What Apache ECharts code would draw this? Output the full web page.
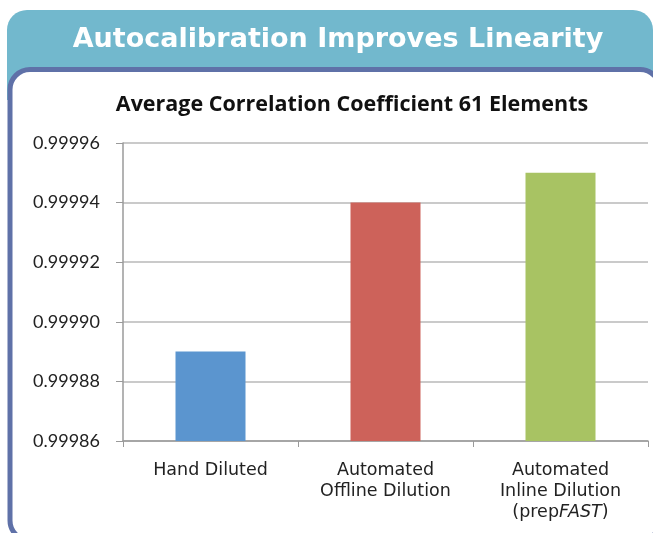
<!DOCTYPE html>
<html>
<head>
    <meta charset="utf-8">
    <title>Autocalibration Improves Linearity</title>
    <style>
        html, body { margin: 0; padding: 0; background: #fff; }
        #main { width: 653px; height: 533px; }
    </style>
</head>
<body>
<div id="main"></div>

<script type="text/javascript" src="https://cdn.jsdelivr.net/npm/echarts@6/dist/echarts.min.js"></script>
<script type="text/javascript">
    // 数据
    var categories = ['Hand Diluted', 'Automated\nOffline Dilution', 'Automated\nInline Dilution\n(prepFAST)'];
    var values = [0.99989, 0.99994, 0.99995];
    var barColors = ['#5b95cf', '#cd625a', '#a8c363'];
    var yMin = 0.99986, yMax = 0.99996, yStep = 0.00002;

    var myChart = echarts.init(document.getElementById('main'));

    var option = {
        backgroundColor: '#ffffff',
        animation: false,
        title: {
            text: 'Average Correlation Coefficient 61 Elements',
            left: 347,
            textAlign: 'center',
            top: 89,
            textStyle: {
                fontFamily: 'Open Sans',
                fontWeight: 'bold',
                fontSize: 21.5,
                color: '#111'
            }
        },
        graphic: [
            // 顶部标题条
            {
                type: 'rect', z: -10,
                shape: { x: 7, y: 10, width: 646, height: 90, r: [20, 20, 0, 0] },
                style: { fill: '#72b8cd' }
            },
            {
                type: 'text', z: -9,
                style: {
                    text: 'Autocalibration Improves Linearity',
                    x: 338, y: 40,
                    align: 'center', verticalAlign: 'middle',
                    fill: '#ffffff',
                    font: 'bold 27px "DejaVu Sans", sans-serif'
                }
            },
            // 白色内框
            {
                type: 'rect', z: -8,
                shape: { x: 10, y: 69.5, width: 650, height: 471, r: 20 },
                style: { fill: '#ffffff', stroke: '#5f71a8', lineWidth: 5 }
            }
        ],
        grid: {
            left: 123,
            right: 5,
            top: 143,
            bottom: 92
        },
        xAxis: {
            type: 'category',
            data: categories,
            axisLine: { lineStyle: { color: '#9a9a9a', width: 1.5 } },
            axisTick: { show: true, length: 6, lineStyle: { color: '#9a9a9a' } },
            axisLabel: {
                margin: 19,
                fontFamily: 'DejaVu Sans',
                fontSize: 17.5,
                lineHeight: 21,
                color: '#222',
                interval: 0,
                formatter: function (v) {
                    return v.replace('FAST', '{i|FAST}');
                },
                rich: {
                    i: {
                        fontFamily: 'DejaVu Sans',
                        fontSize: 17.5,
                        lineHeight: 21,
                        fontStyle: 'italic',
                        color: '#222'
                    }
                }
            }
        },
        yAxis: {
            type: 'value',
            min: yMin,
            max: yMax,
            interval: yStep,
            axisLine: { show: true, lineStyle: { color: '#9a9a9a', width: 1.5 } },
            axisTick: { show: true, length: 7, lineStyle: { color: '#9a9a9a' } },
            splitLine: { lineStyle: { color: '#b8b8b8', width: 1.5 } },
            axisLabel: {
                margin: 23,
                fontFamily: 'Lato',
                fontSize: 18,
                color: '#222',
                formatter: function (v) { return v.toFixed(5); }
            }
        },
        series: [{
            type: 'bar',
            barWidth: 70,
            data: values.map(function (v, i) {
                return { value: v, itemStyle: { color: barColors[i] } };
            })
        }]
    };
    myChart.setOption(option);
</script>
</body>
</html>
